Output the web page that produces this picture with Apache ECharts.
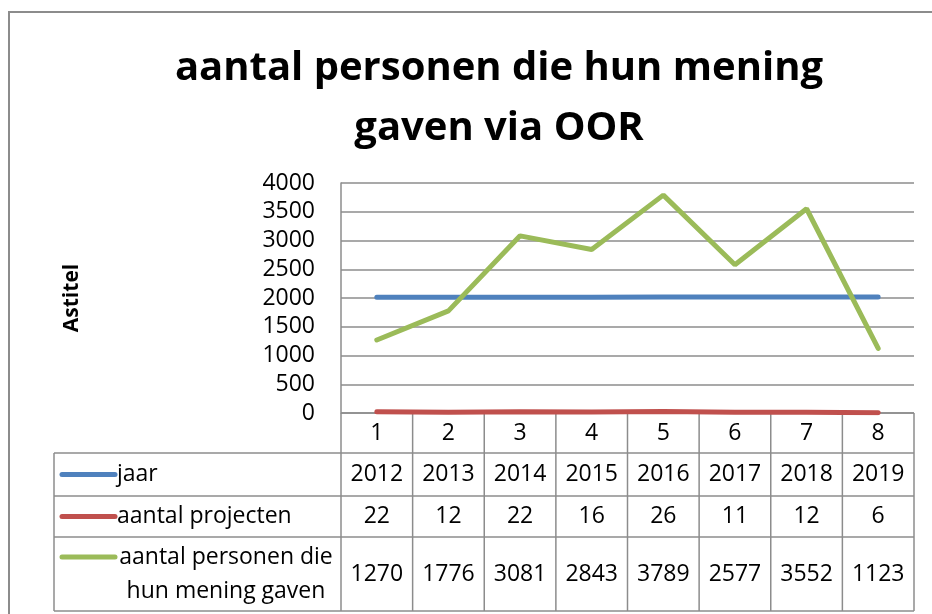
<!DOCTYPE html>
<html lang="nl">
<head>
  <meta charset="UTF-8">
  <title>aantal personen die hun mening gaven via OOR</title>
  <script src="https://cdn.jsdelivr.net/npm/echarts@6/dist/echarts.min.js"></script>
  <style>
    html, body { margin: 0; padding: 0; background: #ffffff; }
    #chart { width: 932px; height: 614px; }
  </style>
</head>
<body>
<div id="chart"></div>
<script>
  // data
  const categories = ['1', '2', '3', '4', '5', '6', '7', '8'];
  const jaar = [2012, 2013, 2014, 2015, 2016, 2017, 2018, 2019];
  const projecten = [22, 12, 22, 16, 26, 11, 12, 6];
  const personen = [1270, 1776, 3081, 2843, 3789, 2577, 3552, 1123];
  const seriesNames = ['jaar', 'aantal projecten', 'aantal personen die hun mening gaven'];
  const colors = ['#4f81bd', '#c0504d', '#9bbb59'];

  const FONT = '"Open Sans", "Liberation Sans", sans-serif';
  const W = 932, H = 614;
  const plotL = 341, plotR = 914, plotT = 183, plotB = 413;
  const rowY = [413, 453, 496, 537, 611];  // table row borders
  const tableL = 54;
  const colW = (plotR - plotL) / categories.length;
  const line = '#8c8c8c';
  const cellFont = '23px ' + FONT;

  const graphic = [];

  // outer chart border (left + top)
  graphic.push({
    type: 'polyline', silent: true,
    shape: { points: [[9, H], [9, 12], [W, 12]] },
    style: { stroke: line, lineWidth: 2, fill: null }
  });

  // table horizontal lines
  for (let i = 1; i < rowY.length; i++) {
    graphic.push({
      type: 'line', silent: true,
      shape: { x1: tableL, y1: rowY[i], x2: plotR, y2: rowY[i] },
      style: { stroke: line, lineWidth: 1.5 }
    });
  }
  // category row top border
  graphic.push({
    type: 'line', silent: true,
    shape: { x1: plotL, y1: plotB, x2: plotR, y2: plotB },
    style: { stroke: line, lineWidth: 1.5 }
  });
  // vertical lines
  for (let c = 0; c <= categories.length; c++) {
    const x = plotL + c * colW;
    graphic.push({
      type: 'line', silent: true,
      shape: { x1: x, y1: plotB, x2: x, y2: rowY[4] },
      style: { stroke: line, lineWidth: 1.5 }
    });
  }
  graphic.push({
    type: 'line', silent: true,
    shape: { x1: tableL, y1: rowY[1], x2: tableL, y2: rowY[4] },
    style: { stroke: line, lineWidth: 1.5 }
  });

  // legend keys + row labels
  const tableRows = [jaar, projecten, personen];
  tableRows.forEach((vals, r) => {
    const top = rowY[r + 1], bot = rowY[r + 2];
    const cy = (top + bot) / 2;
    const keyY = r === 2 ? top + 20 : cy;
    graphic.push({
      type: 'line', silent: true,
      shape: { x1: 62, y1: keyY, x2: 115, y2: keyY },
      style: { stroke: colors[r], lineWidth: 5, lineCap: 'round' }
    });
    if (r < 2) {
      graphic.push({
        type: 'text', silent: true, x: 117, y: cy,
        style: { text: seriesNames[r], font: cellFont, fill: '#000', textAlign: 'left', textVerticalAlign: 'middle' }
      });
    } else {
      graphic.push({
        type: 'text', silent: true, x: 226, y: cy,
        style: { text: 'aantal personen die\nhun mening gaven', font: cellFont, lineHeight: 34, fill: '#000', textAlign: 'center', textVerticalAlign: 'middle' }
      });
    }
    vals.forEach((v, c) => {
      graphic.push({
        type: 'text', silent: true, x: plotL + (c + 0.5) * colW, y: cy,
        style: { text: String(v), font: cellFont, fill: '#000', textAlign: 'center', textVerticalAlign: 'middle' }
      });
    });
  });

  const chart = echarts.init(document.getElementById('chart'), null, { renderer: 'canvas' });
  chart.setOption({
    animation: false,
    backgroundColor: '#ffffff',
    title: {
      text: 'aantal personen die hun mening\ngaven via OOR',
      left: 494, top: 34, textAlign: 'center',
      textStyle: { fontFamily: FONT, fontWeight: 'bold', fontSize: 40, lineHeight: 60, color: '#000' }
    },
    grid: { left: plotL, right: W - plotR, top: plotT, bottom: H - plotB, containLabel: false },
    xAxis: {
      type: 'category',
      data: categories,
      boundaryGap: true,
      axisLine: { show: false },
      axisTick: { show: false },
      axisLabel: { fontFamily: FONT, fontSize: 23, color: '#000', margin: 9 }
    },
    yAxis: {
      type: 'value',
      min: 0, max: 4000, interval: 500,
      name: 'Astitel',
      nameLocation: 'middle',
      nameGap: 258,
      nameRotate: 90,
      nameTextStyle: { fontFamily: FONT, fontWeight: 'bold', fontSize: 21, color: '#000' },
      axisLine: { show: true, lineStyle: { color: line, width: 1.5 } },
      axisTick: { show: false },
      axisLabel: { fontFamily: FONT, fontSize: 23, color: '#000', margin: 26, formatter: v => String(v) },
      splitLine: { lineStyle: { color: line, width: 1.5 } }
    },
    series: [
      { name: seriesNames[0], type: 'line', data: jaar, showSymbol: false, lineStyle: { color: colors[0], width: 5, cap: 'round' } },
      { name: seriesNames[1], type: 'line', data: projecten, showSymbol: false, lineStyle: { color: colors[1], width: 5, cap: 'round' } },
      { name: seriesNames[2], type: 'line', data: personen, showSymbol: false, lineStyle: { color: colors[2], width: 5, cap: 'round' } }
    ],
    graphic: graphic
  });
</script>
</body>
</html>
